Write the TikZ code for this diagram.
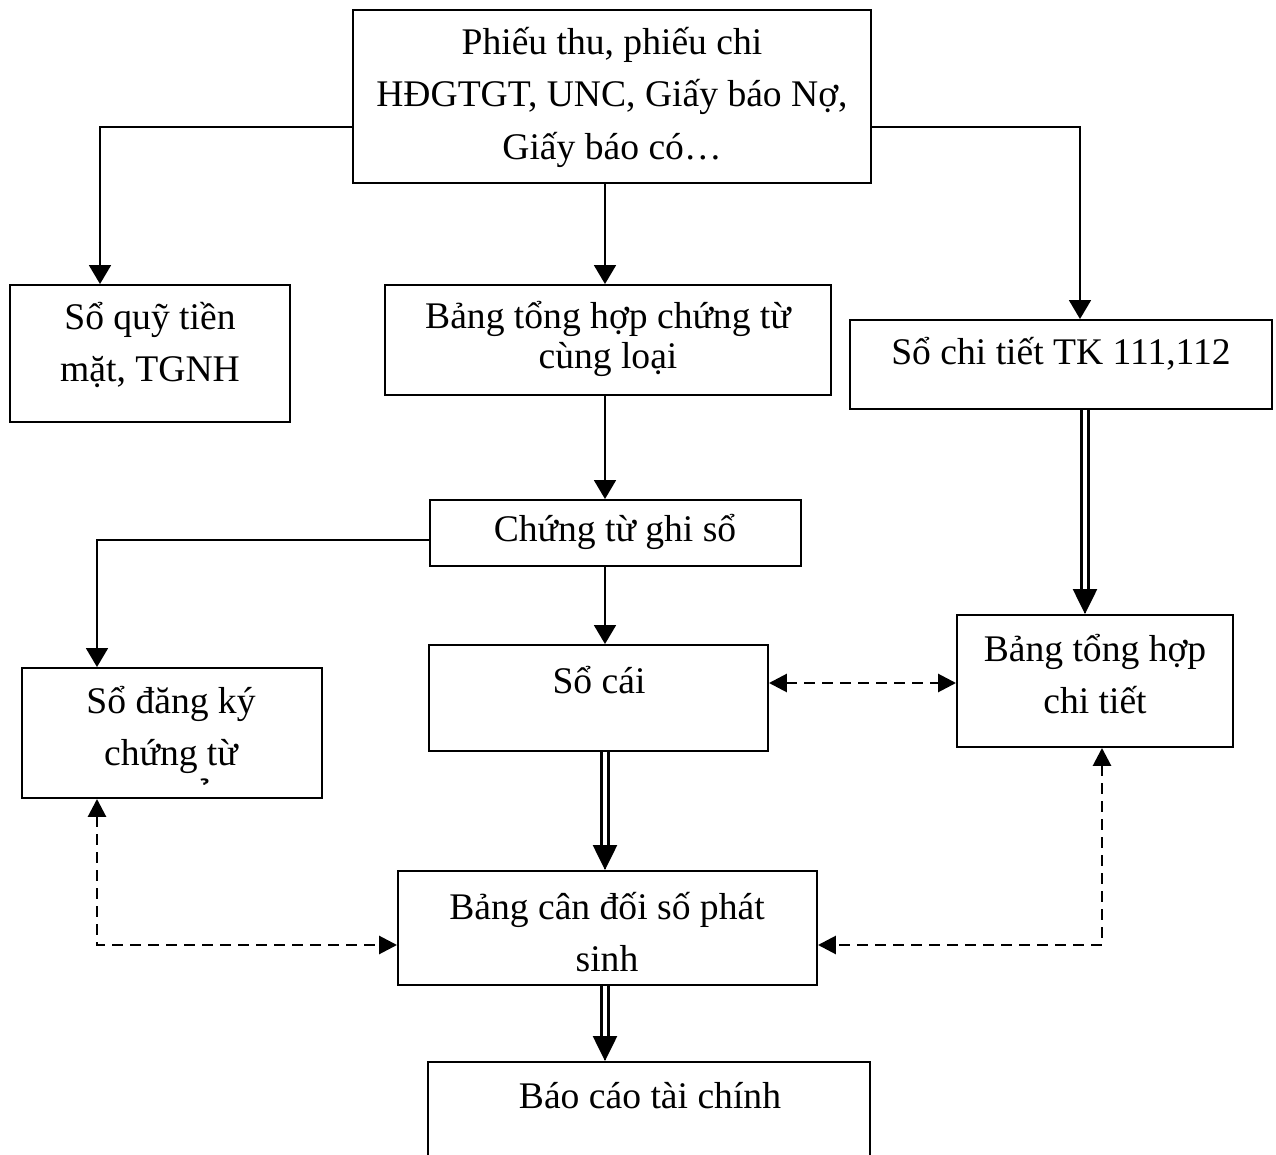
\documentclass[tikz,border=0pt]{standalone}
\usepackage{fontspec}
\setmainfont{Liberation Serif}
\usetikzlibrary{arrows.meta,fit,calc}
\begin{document}
\begin{tikzpicture}[x=0.02cm,y=-0.02cm,
  box/.style={draw, line width=1.1pt, inner sep=0pt},
  txt/.style={align=center, inner sep=0pt, font=\fontsize{21.4}{29.9}\selectfont},
  arr/.style={line width=1.1pt, -{Triangle[width=0.44cm,length=0.38cm]}},
  dsh/.style={line width=1.6pt, dash pattern=on 0.22cm off 0.14cm,
    {Triangle[width=0.36cm,length=0.36cm]}-{Triangle[width=0.36cm,length=0.36cm]}},
  dbl/.style={double, double distance=0.09cm, line width=0.05cm, shorten >=0.45cm},
  dtip/.style={line width=0.05cm, -{Triangle[width=0.48cm,length=0.5cm]}}
]
\useasboundingbox (0,0) rectangle (1276,1155);
\clip (0,0) rectangle (1276,1155);
\fill[white] (0,0) rectangle (1276,1155);

% boxes
\node[box, fit={(353,10) (871,183)}] (top) {};
\node[box, fit={(10,285) (290,422)}] (sq) {};
\node[box, fit={(385,285) (831,395)}] (bth) {};
\node[box, fit={(850,320) (1272,409)}] (sct) {};
\node[box, fit={(430,500) (801,566)}] (ctgs) {};
\node[box, fit={(429,645) (768,751)}] (sc) {};
\node[box, fit={(957,615) (1233,747)}] (bthct) {};
\node[box, fit={(22,668) (322,798)}] (sdk) {};
\node[box, fit={(398,871) (817,985)}] (bcd) {};
\node[box, fit={(428,1062) (870,1175)}] (bctc) {};

% texts
\node[txt] (ttop) at (612,97) {Phiếu thu, phiếu chi\\HĐGTGT, UNC, Giấy báo Nợ,\\Giấy báo có…};
\node[txt] (tsq) at (150,345) {Sổ quỹ tiền\\mặt, TGNH};
\node[txt, font=\fontsize{21.4}{22.8}\selectfont] (tbth) at (608,339) {Bảng tổng hợp chứng từ\\cùng loại};
\node[txt] (tsct) at (1061,354) {Sổ chi tiết TK 111,112};
\node[txt] (tctgs) at (615,532) {Chứng từ ghi sổ};
\node[txt] (tsc) at (599,680) {Sổ cái};
\node[txt] (tbthct) at (1095,674) {Bảng tổng hợp\\chi tiết};
\node[txt] (tsdk) at (171,730) {Sổ đăng ký\\chứng từ};
\node[txt, anchor=base] (thk) at (205,812) {\char"00A0\char"0309};
\node[txt] (tbcd) at (607,932) {Bảng cân đối số phát\\sinh};
\node[txt] (tbctc) at (650,1096) {Báo cáo tài chính};

% routing points
\coordinate (cl) at (100,127);
\coordinate (cr) at (1080,127);
\coordinate (mx) at (605,0);
\coordinate (cg) at (97,540);
\coordinate (dx) at (1085,0);
\coordinate (cs) at (0,683);
\coordinate (bl) at (97,945);
\coordinate (br) at (1102,945);

% solid connectors
\draw[arr] (top.west |- cl) -| (sq.north -| cl);
\draw[arr] (top.east |- cr) -| (sct.north -| cr);
\draw[arr] (top.south -| mx) -- (bth.north -| mx);
\draw[arr] (bth.south -| mx) -- (ctgs.north -| mx);
\draw[arr] (ctgs.west |- cg) -| (sdk.north -| cg);
\draw[arr] (ctgs.south -| mx) -- (sc.north -| mx);

% double connectors
\draw[dbl] (sct.south -| dx) -- (bthct.north -| dx);
\draw[dtip] ($(bthct.north -| dx)+(0,-1)$) -- (bthct.north -| dx);
\draw[dbl] (sc.south -| mx) -- (bcd.north -| mx);
\draw[dtip] ($(bcd.north -| mx)+(0,-1)$) -- (bcd.north -| mx);
\draw[dbl] (bcd.south -| mx) -- (bctc.north -| mx);
\draw[dtip] ($(bctc.north -| mx)+(0,-1)$) -- (bctc.north -| mx);

% dashed connectors
\draw[dsh] (sc.east |- cs) -- (bthct.west |- cs);
\draw[dsh] (sdk.south -| bl) |- (bcd.west |- bl);
\draw[dsh] (bthct.south -| br) |- (bcd.east |- br);
\end{tikzpicture}
\end{document}
